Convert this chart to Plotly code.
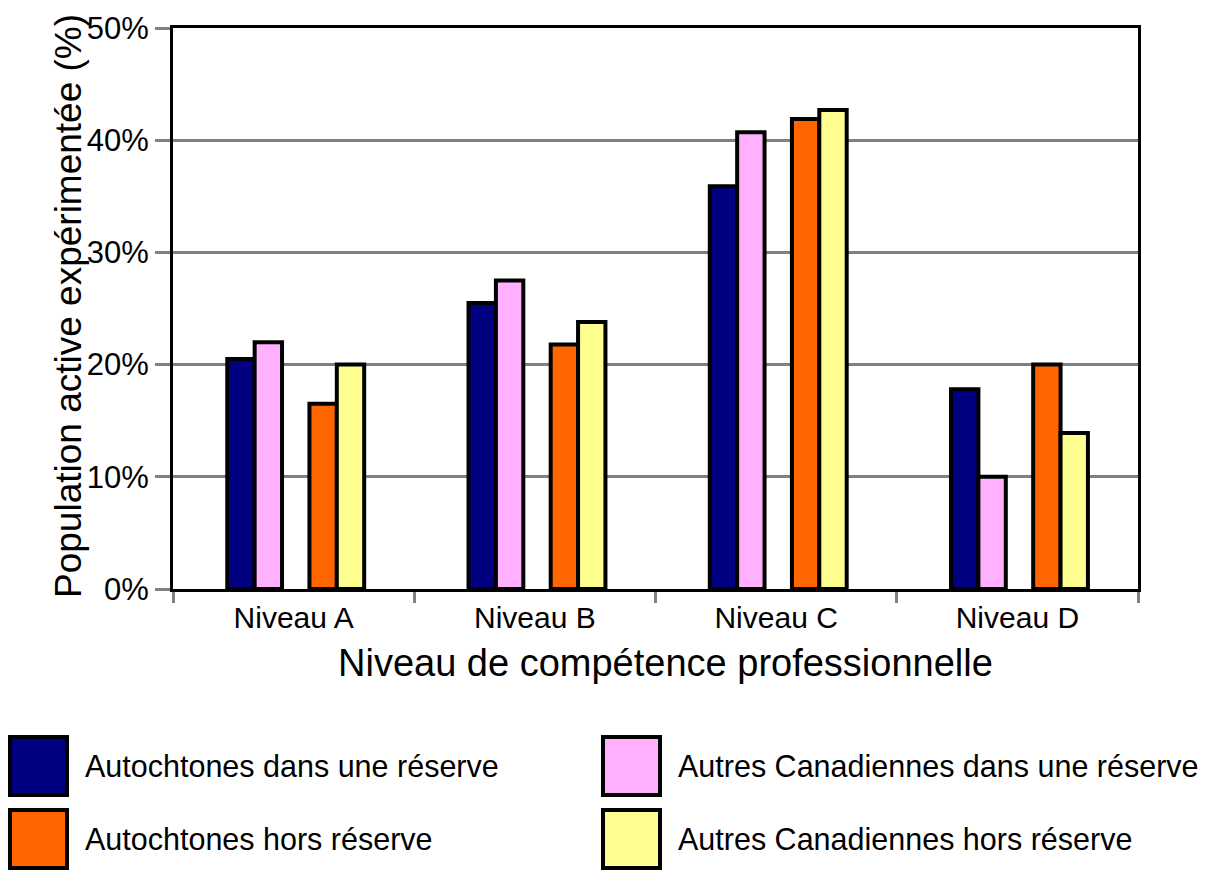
import plotly.graph_objects as go

categories = ["Niveau A", "Niveau B", "Niveau C", "Niveau D"]
series_names = [
    "Autochtones dans une réserve",
    "Autres Canadiennes dans une réserve",
    "Autochtones hors réserve",
    "Autres Canadiennes hors réserve",
]
autochtones_reserve = [0.205, 0.255, 0.359, 0.178]
autres_reserve = [0.220, 0.275, 0.407, 0.100]
autochtones_hors = [0.165, 0.218, 0.419, 0.200]
autres_hors = [0.200, 0.238, 0.427, 0.139]
y_ticks = [0, 0.1, 0.2, 0.3, 0.4, 0.5]
y_tick_labels = ["0%", "10%", "20%", "30%", "40%", "50%"]

colors = ["#000080", "#FFB0FF", "#FF6600", "#FFFF90"]
values = [autochtones_reserve, autres_reserve, autochtones_hors, autres_hors]

FONT = "Liberation Sans, Arial, sans-serif"
W, H = 1212, 870
PX0, PX1, PY0, PY1 = 173, 1138, 28, 589


def px(x):
    return (x - PX0) / (PX1 - PX0)


def py(y):
    return (PY1 - y) / (PY1 - PY0)


slot = 0.1135
base = -0.275
slot_index = [0, 1, 3, 4]  # empty slot in the middle of each group

fig = go.Figure()
for name, vals, col, si in zip(series_names, values, colors, slot_index):
    fig.add_trace(go.Bar(
        x=categories, y=vals, name=name,
        marker=dict(color=col, line=dict(color="black", width=4)),
        width=slot, offset=base + si * slot,
        showlegend=False,
    ))

fig.update_layout(
    width=W, height=H,
    margin=dict(l=PX0, r=W - PX1, t=PY0, b=H - PY1),
    plot_bgcolor="white", paper_bgcolor="white",
    font=dict(family=FONT, color="black"),
    barmode="overlay",
)
fig.update_xaxes(
    type="category", range=[-0.5, 3.5],
    showline=True, linecolor="black", linewidth=3, mirror=True,
    ticks="outside", tickson="boundaries", ticklen=11, tickwidth=3, tickcolor="#808080",
    tickfont=dict(size=30, family=FONT, color="black"),
    showgrid=False,
)
fig.update_yaxes(
    range=[0, 0.5], tickvals=y_ticks, ticktext=y_tick_labels,
    showline=True, linecolor="black", linewidth=3, mirror=True,
    ticks="outside", ticklen=15, tickwidth=3, tickcolor="#808080",
    tickfont=dict(size=31, family=FONT, color="black"),
    showgrid=True, gridcolor="#808080", gridwidth=3,
    zeroline=False,
)

annotations = [
    dict(text="Niveau de compétence professionnelle", x=px(665), y=py(663),
         xref="paper", yref="paper", showarrow=False, xanchor="center", yanchor="middle",
         font=dict(size=38, family=FONT, color="black")),
    dict(text="Population active expérimentée (%)", x=px(69), y=py(306),
         xref="paper", yref="paper", showarrow=False, xanchor="center", yanchor="middle",
         textangle=-90, font=dict(size=37, family=FONT, color="black")),
]

shapes = []
legend_pos = [(10, 737), (603, 737), (10, 810), (603, 810)]
for name, col, (lx, ly) in zip(series_names, colors, legend_pos):
    shapes.append(dict(type="rect", xref="paper", yref="paper",
                       x0=px(lx), x1=px(lx + 57), y0=py(ly), y1=py(ly + 58),
                       fillcolor=col, line=dict(color="black", width=4)))
    annotations.append(dict(text=name, x=px(lx + 73), y=py(ly + 29),
                            xref="paper", yref="paper", showarrow=False,
                            xanchor="left", yanchor="middle",
                            font=dict(size=30.5, family=FONT, color="black")))

fig.update_layout(annotations=annotations, shapes=shapes)
fig.write_html("out.html", config={"displayModeBar": False},
               post_script="document.body.style.margin='0';document.body.style.overflow='hidden';")
